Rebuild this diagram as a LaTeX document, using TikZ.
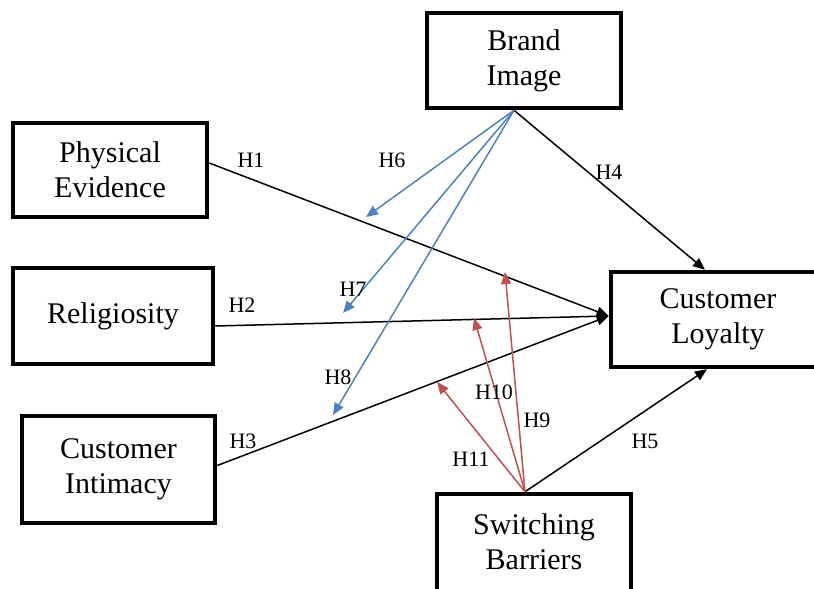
\documentclass[tikz,border=0pt]{standalone}
\usepackage{fontspec}
\setmainfont{Liberation Serif}
\usetikzlibrary{arrows.meta,calc}
\definecolor{hblue}{RGB}{79,129,189}
\definecolor{hred}{RGB}{192,80,77}

\begin{document}
\begin{tikzpicture}[x=1pt,y=-1pt,
   varbox/.style={draw,line width=4.5pt,align=center,inner sep=0pt,
      font=\fontsize{30}{35}\selectfont},
   hyp/.style={line width=1.5pt,-{Triangle[length=12pt,width=10pt]}},
   hblu/.style={hyp,hblue},
   hrd/.style={hyp,hred},
   hlab/.style={inner sep=0pt,font=\fontsize{22}{24}\selectfont}]
   \useasboundingbox (0,0) rectangle (814,589);
   \clip (0,0) rectangle (814,589);

   % the constructs
   \node[varbox,minimum width=194pt,minimum height=95pt] (bi) at (524,60.5) {Brand\\Image};
   \node[varbox,minimum width=194pt,minimum height=94pt] (pe) at (110,170) {Physical\\Evidence};
   \node[varbox,minimum width=200pt,minimum height=96pt] (rel) at (113,316) {Religiosity};
   \node[varbox,minimum width=193pt,minimum height=107pt] (ci) at (118.5,469.5) {Customer\\Intimacy};
   \node[varbox,minimum width=214pt,minimum height=95pt] (cl) at (718,319.5) {Customer\\Loyalty};
   \node[varbox,minimum width=194pt,minimum height=120pt,text depth=24pt] (sb) at (534,554) {Switching\\Barriers};

   % free ends of the moderating paths
   \coordinate (h6end) at (366,217);
   \coordinate (h7end) at (343,313);
   \coordinate (h8end) at (333,415);
   \coordinate (h9end) at (505,272);
   \coordinate (h10end) at (474,318);
   \coordinate (h11end) at (437,382);

   \draw[hyp] ([yshift=7pt]pe.east) -- ([yshift=3.5pt]cl.west);
   \draw[hyp] ([yshift=-10pt]rel.east) -- ([yshift=3.5pt]cl.west);
   \draw[hyp] ([yshift=4pt]ci.east) -- ([yshift=3.5pt]cl.west);
   \draw[hyp] ([xshift=-10pt]bi.south) -- ([xshift=-13pt]cl.north);
   \draw[hyp] ([xshift=-9pt]sb.north) -- ([xshift=-11pt]cl.south);

   \draw[hblu] ([xshift=-10pt]bi.south) -- (h6end);
   \draw[hblu] ([xshift=-10pt]bi.south) -- (h7end);
   \draw[hblu] ([xshift=-10pt]bi.south) -- (h8end);

   \draw[hrd] ([xshift=-9pt]sb.north) -- (h9end);
   \draw[hrd] ([xshift=-9pt]sb.north) -- (h10end);
   \draw[hrd] ([xshift=-9pt]sb.north) -- (h11end);

   % hypothesis labels
   \node[hlab] (l1) at (251,160) {H1};
   \node[hlab] (l2) at (242,305) {H2};
   \node[hlab] (l3) at (243,441) {H3};
   \node[hlab] (l4) at (609,172) {H4};
   \node[hlab] (l5) at (645,441) {H5};
   \node[hlab] (l6) at (392,160) {H6};
   \node[hlab] (l7) at (353,289) {H7};
   \node[hlab] (l8) at (338,377) {H8};
   \node[hlab] (l9) at (537,420) {H9};
   \node[hlab] (l10) at (494,392) {H10};
   \node[hlab] (l11) at (471,459) {H11};
\end{tikzpicture}
\end{document}
